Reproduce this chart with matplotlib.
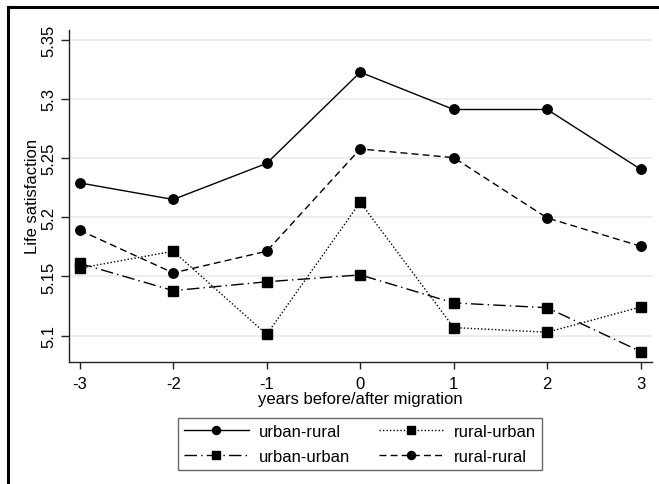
import matplotlib
matplotlib.use("Agg")
import matplotlib.pyplot as plt
from matplotlib.lines import Line2D

plt.rcParams['font.family'] = ['Liberation Sans', 'DejaVu Sans']

years = [-3, -2, -1, 0, 1, 2, 3]
urban_rural = [5.229, 5.215, 5.2455, 5.3225, 5.291, 5.291, 5.2405]
urban_urban = [5.161, 5.138, 5.1455, 5.1513, 5.1276, 5.1236, 5.0865]
rural_urban = [5.157, 5.1713, 5.101, 5.2127, 5.1068, 5.1029, 5.1242]
rural_rural = [5.189, 5.153, 5.1713, 5.2577, 5.2503, 5.1994, 5.1755]
yticks = [5.1, 5.15, 5.2, 5.25, 5.3, 5.35]
ytick_labels = ["5.1", "5.15", "5.2", "5.25", "5.3", "5.35"]

fig = plt.figure(figsize=(6.59, 4.85), dpi=100)
ax = fig.add_axes([0.1052, 0.2522, 0.989 - 0.1052, 0.9367 - 0.2522])

ms = 6.8
lw = 1.0
l1, = ax.plot(years, urban_rural, color='black', lw=lw, ls='-', marker='o', ms=ms, label='urban-rural')
l2, = ax.plot(years, urban_urban, color='black', lw=lw, ls=(0, (9, 3, 1, 3)), marker='s', ms=ms, label='urban-urban')
l3, = ax.plot(years, rural_urban, color='black', lw=lw, ls=(0, (1, 1.5)), marker='s', ms=ms, label='rural-urban')
l4, = ax.plot(years, rural_rural, color='black', lw=lw, ls=(0, (5, 3)), marker='o', ms=ms, label='rural-rural')

ax.set_xlim(-3.111, 3.118)
ax.set_ylim(5.078, 5.3584)
ax.set_xticks(years)
ax.set_xticklabels([str(y) for y in years])
ax.set_yticks(yticks)
ax.set_yticklabels(ytick_labels, rotation=90, va='center')
ax.yaxis.grid(True, color='#e4eef0', lw=1.2)
ax.set_axisbelow(True)
for s in ['top', 'right']:
    ax.spines[s].set_visible(False)
for s in ['left', 'bottom']:
    ax.spines[s].set_linewidth(1.0)
    ax.spines[s].set_color('#222222')
ax.tick_params(axis='both', labelsize=12, color='#222222', width=1.0)
ax.tick_params(axis='y', length=6, pad=3)
ax.tick_params(axis='x', length=5, pad=5)
ax.set_xlabel('years before/after migration', fontsize=12, labelpad=0)
ax.set_ylabel('Life satisfaction', fontsize=12, labelpad=1)

leg = fig.legend(handles=[l1, l2, l3, l4], loc='center', bbox_to_anchor=(0.546, 0.0830),
                 ncol=2, fontsize=12, frameon=True, fancybox=False, handlelength=3.9,
                 handletextpad=0.6, columnspacing=1.75, borderpad=0.35, labelspacing=0.62,
                 markerscale=0.85)
leg.get_frame().set_edgecolor('#444444')
leg.get_frame().set_linewidth(1.0)

# outer frame (left and top edges)
fig.add_artist(Line2D([7.5 / 659, 7.5 / 659], [0, 1 - 7.5 / 485], transform=fig.transFigure, color='black', lw=2.2))
fig.add_artist(Line2D([7.5 / 659, 1], [1 - 7.5 / 485, 1 - 7.5 / 485], transform=fig.transFigure, color='black', lw=2.2))

fig.savefig('out.png', dpi=100)
